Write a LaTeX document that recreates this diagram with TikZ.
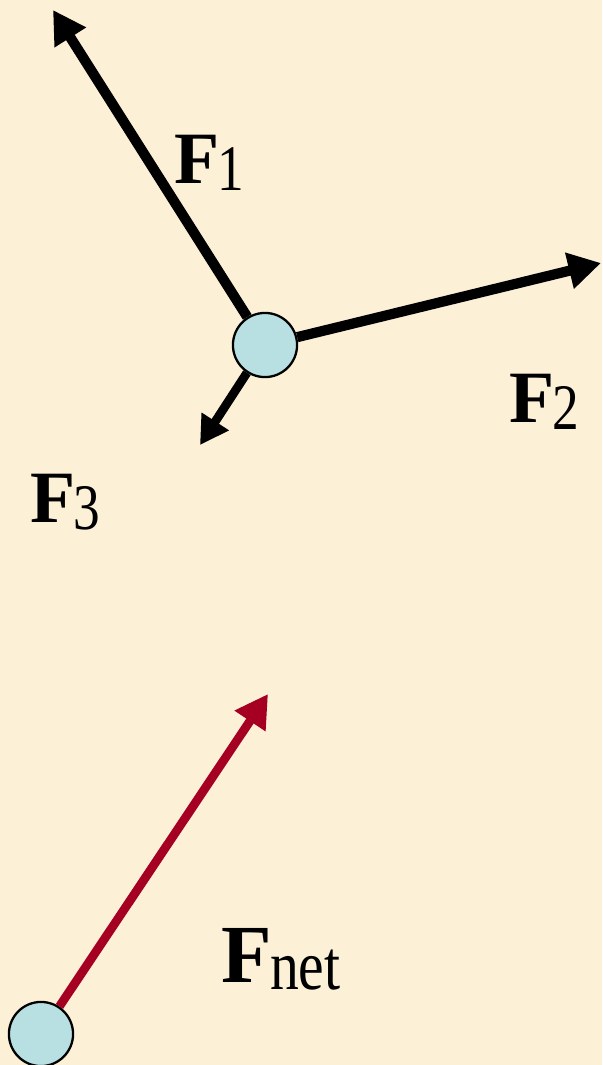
\documentclass[tikz,border=0pt]{standalone}
\usepackage{fontspec}
\usepackage{graphicx}
\setmainfont{Liberation Serif}
\usetikzlibrary{arrows.meta}
\definecolor{bgcream}{HTML}{FCF0D7}
\definecolor{ballfill}{HTML}{B8E0E3}
\definecolor{netred}{HTML}{A50021}
\newcommand{\forcelbl}[4]{{\fontsize{#3}{#3}\selectfont\bfseries F}\kern-1pt\raisebox{-4pt}{\scalebox{0.82}[1]{\fontsize{#4}{#4}\selectfont #2}}}
\tikzset{
  ball/.style={circle, draw=black, line width=1.3pt, fill=ballfill, minimum size=36.5pt, inner sep=0pt},
  forcevec/.style={line width=5.8pt, -{Triangle[length=18.5pt,width=20pt]}},
  lbl/.style={anchor=base west, inner sep=0pt, text=black}
}
\begin{document}
\begin{tikzpicture}[x=0.02cm,y=-0.02cm]
\useasboundingbox (0,0) rectangle (602,1065);
\fill[bgcream] (0,0) rectangle (602,1065);
\begin{scope}
\clip (0,0) rectangle (602,1065);
% top particle
\node[ball] (c1) at (265,345) {};
\coordinate (t1) at (53,10);
\coordinate (t2) at (601,263);
\coordinate (t3) at (200,445);
\draw[forcevec] (c1) -- (t1);
\draw[forcevec] (c1) -- (t2);
\draw[forcevec, line width=5pt, -{Triangle[length=16pt,width=17.5pt]}] (c1) -- (t3);
% bottom particle
\node[ball] (c2) at (41,1034) {};
\coordinate (tn) at (268,694);
\draw[forcevec, color=netred, line width=5pt] (c2) -- (tn);
\end{scope}
% labels
\node[lbl] (l1) at (174,183) {\forcelbl{F}{1}{42pt}{37pt}};
\node[lbl] (l2) at (509,422) {\forcelbl{F}{2}{42pt}{37pt}};
\node[lbl] (l3) at (30,522) {\forcelbl{F}{3}{42pt}{37pt}};
\node[lbl] (ln) at (221,982) {\forcelbl{F}{net}{47pt}{40pt}};
\end{tikzpicture}
\end{document}
